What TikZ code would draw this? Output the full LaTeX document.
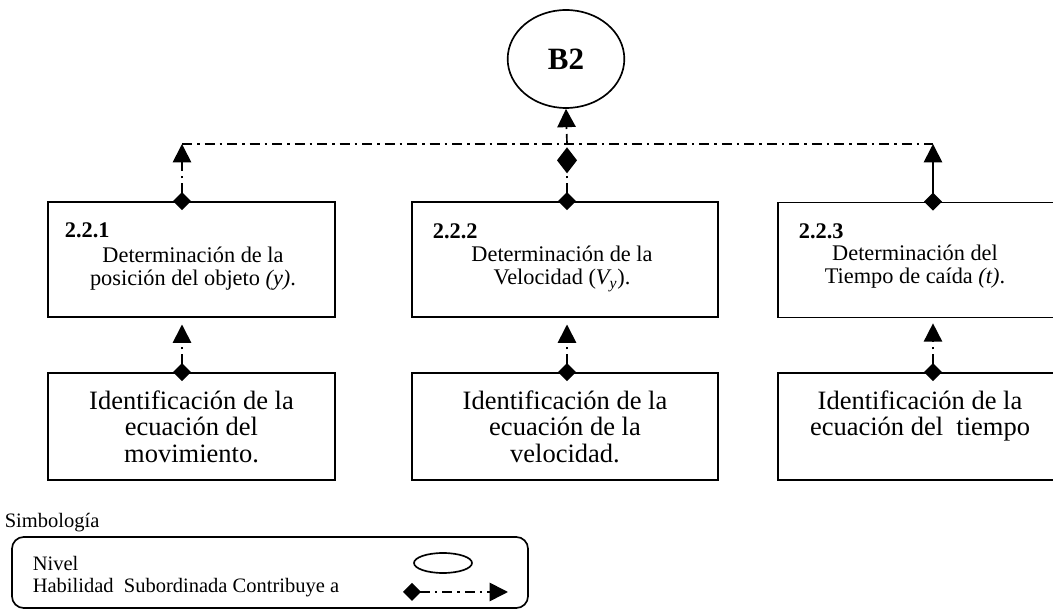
\documentclass[tikz,border=0pt]{standalone}
\usepackage{fontspec}
\setmainfont{Liberation Serif}
\usetikzlibrary{arrows.meta, positioning, shapes.geometric}

\tikzset{
  nivel/.style={draw, ellipse, minimum width=70pt, minimum height=58.8pt, inner sep=0pt,
    font=\fontsize{18.6}{20}\selectfont\bfseries},
  habbox/.style={draw, rectangle, inner sep=0pt, minimum height=69pt},
  subbox/.style={draw, rectangle, inner sep=0pt, minimum height=64.2pt, align=center,
    font=\fontsize{15.9}{15.9}\selectfont},
  habnum/.style={anchor=west, inner sep=0pt, font=\fontsize{13.4}{13.4}\selectfont\bfseries},
  habtxt/.style={align=center, inner sep=0pt, font=\fontsize{13.4}{13.8}\selectfont},
  leyenda/.style={anchor=west, inner sep=0pt, font=\fontsize{12.3}{13}\selectfont},
  dashdot/.style={dash pattern=on 6pt off 3pt on 1.5pt off 3pt},
  contrib/.style={dashdot, {Diamond[length=10.8pt, width=10.8pt]}-{Triangle[length=11pt, width=11pt]},
    shorten <=-5.4pt}
}

\begin{document}
\begin{tikzpicture}[x=0.6pt, y=-0.6pt, line width=1pt]
  \useasboundingbox (0,0) rectangle (1053,611);
  \clip (0,0) rectangle (1053,611);

  % --- Nivel B2 ---
  \node[nivel] (b2) at (566,59) {B2};
  \coordinate (jl) at (182,144);
  \coordinate (jm) at (567,144);
  \coordinate (jr) at (933,144);

  % --- Habilidades 2.2.x ---
  \node[habbox, minimum width=172.2pt] (h1) at (191.5,259.5) {};
  \node[habbox, minimum width=183.6pt] (h2) at (565,259.5) {};
  \node[habbox, minimum width=170.4pt] (h3) at (920,260) {};

  \node[habnum] (n1) at (64,230) {2.2.1};
  \node[habnum] (n2) at (432,231) {2.2.2};
  \node[habnum] (n3) at (798,231) {2.2.3};
  \node[habtxt] (t1) at (193,269) {Determinación de la\\posición del objeto \textit{(y)}.};
  \node[habtxt] (t2) at (562,269) {Determinación de la\\Velocidad (\textit{V\textsubscript{y}}).};
  \node[habtxt] (t3) at (915,267) {Determinación del\\Tiempo de caída \textit{(t)}.};

  % --- Habilidades subordinadas ---
  \node[subbox, minimum width=172.2pt] (s1) at (191.5,426.5) {Identificación de la\\ecuación del\\movimiento.};
  \node[subbox, minimum width=183.6pt] (s2) at (565,426.5) {Identificación de la\\ecuación de la\\velocidad.};
  \node[subbox, minimum width=170.4pt] (s3) at (920,426.5) {Identificación de la\\ecuación del\ \ tiempo\\\mbox{}};

  % --- Contribuye a ---
  \draw[dashdot] (jl) -- (jr);
  \draw[contrib] (h1.north -| jl) -- (jl);
  \draw[contrib, {Diamond[length=10.8pt, width=10.8pt]}-{Diamond[length=15.6pt, width=12pt]}, shorten >=2pt] (h2.north -| jm) -- (jm);
  \draw[dashdot, -{Triangle[length=11pt, width=11pt]}] (jm) -- (b2.south);
  \draw[contrib, solid] (h3.north -| jr) -- (jr);

  \draw[contrib, shorten >=4pt] (s1.north -| jl) -- (h1.south -| jl);
  \draw[contrib, shorten >=4pt] (s2.north -| jm) -- (h2.south -| jm);
  \draw[contrib, shorten >=3pt] (s3.north -| jr) -- (h3.south -| jr);

  % --- Simbologia ---
  \node[leyenda] (simb) at (4,523) {Simbología};
  \node[draw, rounded corners=7pt, minimum width=309.6pt, minimum height=42.6pt, inner sep=0pt] (cuadro) at (270,572.5) {};
  \node[leyenda] (lnivel) at (32,563) {Nivel};
  \node[leyenda] (lhab) at (32,588) {Habilidad\ \ Subordinada Contribuye a};
  \node[draw, ellipse, minimum width=34.8pt, minimum height=12pt, inner sep=0pt] (enivel) at (443,563) {};
  \coordinate (simA) at (403,592);
  \coordinate (simB) at (508,592);
  \draw[contrib, shorten <=0pt] (simA) -- (simB);
\end{tikzpicture}
\end{document}
